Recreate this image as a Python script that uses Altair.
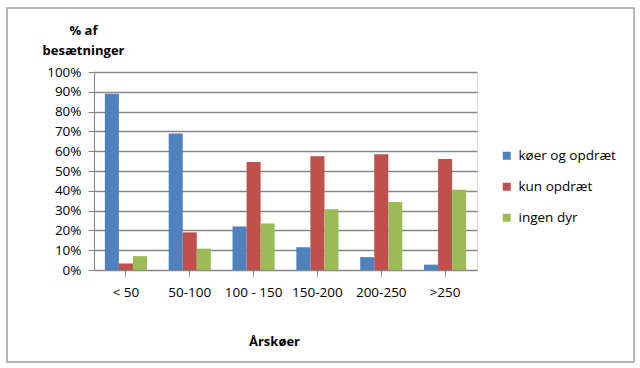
import altair as alt
import pandas as pd

categories = ["< 50", "50-100", "100 - 150", "150-200", "200-250", ">250"]
series = ["køer og opdræt", "kun opdræt", "ingen dyr"]
koer_og_opdraet = [0.89, 0.69, 0.22, 0.115, 0.065, 0.027]
kun_opdraet = [0.033, 0.19, 0.545, 0.575, 0.585, 0.56]
ingen_dyr = [0.07, 0.108, 0.235, 0.307, 0.343, 0.405]
colors = ["#4F81BD", "#C0504D", "#9BBB59"]

rows = []
for s, vals in zip(series, [koer_og_opdraet, kun_opdraet, ingen_dyr]):
    for c, v in zip(categories, vals):
        rows.append({"kategori": c, "serie": s, "andel": v})
df = pd.DataFrame(rows)

FONT = "Open Sans"
W, H = 383, 198

bars = alt.Chart(df).mark_bar().encode(
    x=alt.X("kategori:N", sort=categories,
            scale=alt.Scale(paddingInner=0.34, paddingOuter=0.17),
            axis=alt.Axis(title="Årskøer", labelAngle=0, titleFontWeight="bold",
                          titleFontSize=13, titleX=180, titleY=75,
                          titleAnchor=None, titleAlign="center",
                          titleBaseline="alphabetic",
                          labelFontSize=13.5, labelPadding=9, tickSize=6,
                          domainColor="#868686", tickColor="#868686",
                          labelColor="#000", titleColor="#000")),
    xOffset=alt.XOffset("serie:N", sort=series),
    y=alt.Y("andel:Q",
            scale=alt.Scale(domain=[0, 1], nice=False),
            axis=alt.Axis(format=".0%", values=[i / 10 for i in range(11)],
                          title=["% af", "besætninger"], titleAngle=0,
                          titleFontWeight="bold", titleFontSize=13,
                          titleX=-11, titleY=-38, titleAlign="center",
                          titleBaseline="alphabetic", titleLineHeight=20,
                          labelFontSize=13.5, labelPadding=7, tickSize=6,
                          gridColor="#868686", gridWidth=1.4,
                          domainColor="#868686", tickColor="#868686",
                          labelColor="#000", titleColor="#000")),
    color=alt.Color("serie:N", sort=series,
                    scale=alt.Scale(domain=series, range=colors),
                    legend=alt.Legend(title=None, orient="none", legendX=406,
                                      legendY=77, symbolType="square",
                                      symbolSize=64, symbolStrokeWidth=0,
                                      labelFontSize=13.5, rowPadding=16,
                                      labelOffset=5, labelColor="#000")),
)

frame = alt.Chart(pd.DataFrame({"a": [0]})).mark_rect(
    fill=None, stroke="#a0a0a0", strokeWidth=1.5
).encode(x=alt.value(-87), x2=alt.value(540), y=alt.value(-64), y2=alt.value(290))

chart = alt.layer(frame, bars).properties(
    width=W, height=H,
    autosize=alt.AutoSizeParams(type="none"),
    padding={"left": 94, "top": 72, "right": 640 - 94 - W, "bottom": 368 - 72 - H},
    background="white",
).configure_view(stroke=None).configure(font=FONT)

chart.save("out.html", embed_options={"renderer": "svg", "actions": False})
